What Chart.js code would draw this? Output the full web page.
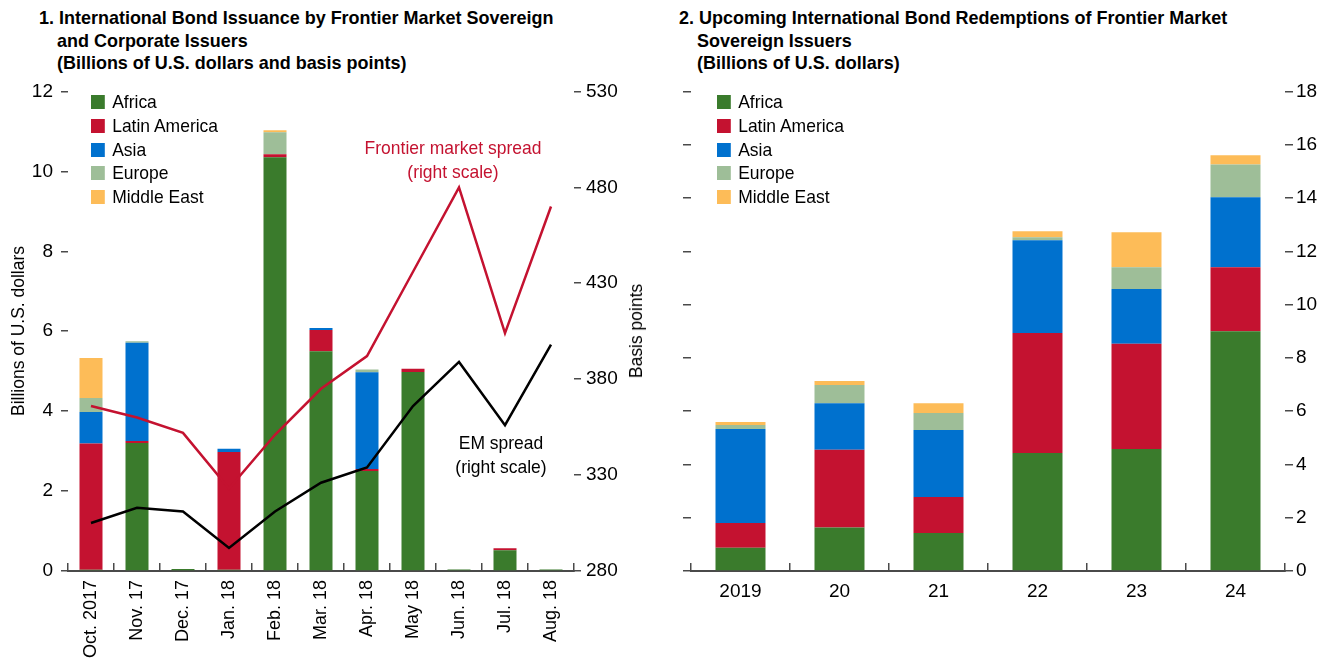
<!DOCTYPE html>
<html lang="en">
<head>
<meta charset="UTF-8">
<title>Frontier market bonds</title>
<script src="https://cdn.jsdelivr.net/npm/chart.js"></script>
<style>
    body { margin: 0; background: #fff; width: 1333px; height: 660px; position: relative; overflow: hidden;
           font-family: "Liberation Sans", Arial, sans-serif; color: #000; }
    .title { position: absolute; top: 7px; font-weight: bold; font-size: 19px; line-height: 22.5px;
             padding-left: 19px; text-indent: -19px; white-space: nowrap;
             transform: scaleX(0.946); transform-origin: left top; }
    .chart { position: absolute; }
    .legend { position: absolute; top: 92px; font-size: 19px; }
    .legend div { height: 23.8px; line-height: 20px; white-space: nowrap; transform: scaleX(0.92); transform-origin: left center; }
    .legend span { display: inline-block; width: 15px; height: 14px; margin-right: 8px; vertical-align: -1px; }
    .note { position: absolute; font-size: 19px; line-height: 24px; text-align: center; white-space: nowrap; }
    .axis-title { position: absolute; font-size: 19px; white-space: nowrap; }
</style>
</head>
<body>

<div class="title" style="left:39px">1. International Bond Issuance by Frontier Market Sovereign<br>and Corporate Issuers<br>(Billions of U.S. dollars and basis points)</div>
<div class="title" style="left:679px">2. Upcoming International Bond Redemptions of Frontier Market<br>Sovereign Issuers<br>(Billions of U.S. dollars)</div>

<canvas id="issuance" class="chart" style="left:0px; top:72px" width="655" height="588"></canvas>
<canvas id="redemptions" class="chart" style="left:660px; top:77px" width="673" height="583"></canvas>

<div class="axis-title" style="left:18px; top:331px; transform:translate(-50%, -50%) rotate(-90deg) scaleX(0.92)">Billions of U.S. dollars</div>
<div class="axis-title" style="left:636px; top:331px; transform:translate(-50%, -50%) rotate(-90deg) scaleX(0.92)">Basis points</div>

<div class="note" style="left:453px; top:136px; transform:translateX(-50%) scaleX(0.92); color:#c41230">Frontier market spread<br>(right scale)</div>
<div class="note" style="left:501px; top:431px; transform:translateX(-50%) scaleX(0.92)">EM spread<br>(right scale)</div>

<div class="legend" id="legendLeft" style="left:91px"></div>
<div class="legend" id="legendRight" style="left:717px"></div>

<script>
    // Panel 1: monthly issuance (billions of U.S. dollars) and spreads (basis points)
    const months = ['Oct. 2017', 'Nov. 17', 'Dec. 17', 'Jan. 18', 'Feb. 18', 'Mar. 18',
                    'Apr. 18', 'May 18', 'Jun. 18', 'Jul. 18', 'Aug. 18'];
    const issAfrica  = [0.03, 3.20, 0.05, 0.03, 10.35, 5.50, 2.50, 4.98, 0.04, 0.52, 0.04];
    const issLatAm   = [3.16, 0.05, 0, 2.95, 0.08, 0.53, 0.05, 0.08, 0, 0.05, 0];
    const issAsia    = [0.79, 2.46, 0, 0.08, 0, 0.05, 2.42, 0, 0, 0, 0];
    const issEurope  = [0.35, 0.04, 0, 0, 0.55, 0, 0.07, 0, 0, 0, 0];
    const issMidEast = [1.00, 0, 0, 0, 0.05, 0, 0, 0, 0, 0, 0];
    const frontierSpread = [366, 360, 352, 323, 351, 375, 392, 436, 480, 404, 470];
    const emSpread       = [305, 313, 311, 292, 311, 326, 334, 366, 389, 356, 398];

    // Panel 2: redemptions by year (billions of U.S. dollars)
    const years = ['2019', '20', '21', '22', '23', '24'];
    const redAfrica  = [0.87, 1.63, 1.43, 4.43, 4.58, 9.00];
    const redLatAm   = [0.93, 2.92, 1.35, 4.50, 3.95, 2.40];
    const redAsia    = [3.53, 1.75, 2.51, 3.48, 2.05, 2.63];
    const redEurope  = [0.15, 0.68, 0.64, 0.12, 0.82, 1.23];
    const redMidEast = [0.11, 0.15, 0.37, 0.22, 1.31, 0.34];

    const regions = ['Africa', 'Latin America', 'Asia', 'Europe', 'Middle East'];
    const regionColors = ['#3a7b2c', '#c41230', '#0071ce', '#9ebe98', '#fdbc58'];

    const FONT = { family: '"Liberation Sans", Arial, sans-serif', size: 19 };
    const AXIS = '#4a4a4a';

    // legends built from the same region list
    ['legendLeft', 'legendRight'].forEach(id => {
        const box = document.getElementById(id);
        regions.forEach((name, i) => {
            const row = document.createElement('div');
            row.innerHTML = `<span style="background:${regionColors[i]}"></span>${name}`;
            box.appendChild(row);
        });
    });

    function barSets(series, pct, axis) {
        return series.map((values, i) => ({
            type: 'bar',
            label: regions[i],
            data: values,
            yAxisID: axis,
            backgroundColor: regionColors[i],
            barPercentage: pct,
            categoryPercentage: 1,
            order: 1
        }));
    }

    function xScale(fontSize) {
        return {
            stacked: true,
            offset: true,
            grid: { offset: true, drawOnChartArea: false, drawTicks: true, tickLength: -8, color: AXIS, lineWidth: 1.5 },
            border: { color: AXIS, width: 2 },
            ticks: { autoSkip: false, font: Object.assign({}, FONT, { size: fontSize }), color: '#000', padding: 17 },
            afterFit(s) { s.height = 89; }
        };
    }

    function yTicks(padding) {
        return { font: FONT, color: '#000', padding: padding };
    }

    const yGrid = { drawOnChartArea: false, drawTicks: true, tickLength: 7, color: AXIS, lineWidth: 1.5 };

    Chart.defaults.animation = false;

    const xLeft = xScale(18);
    xLeft.ticks.minRotation = 90;
    xLeft.ticks.maxRotation = 90;

    new Chart(document.getElementById('issuance'), {
        data: {
            labels: months,
            datasets: [
                ...barSets([issAfrica, issLatAm, issAsia, issEurope, issMidEast], 0.5, 'y'),
                { type: 'line', label: 'Frontier market spread', data: frontierSpread, yAxisID: 'y1',
                  borderColor: '#c41230', borderWidth: 2.5, pointRadius: 0, tension: 0, order: 0 },
                { type: 'line', label: 'EM spread', data: emSpread, yAxisID: 'y1',
                  borderColor: '#000', borderWidth: 2.5, pointRadius: 0, tension: 0, order: 0 }
            ]
        },
        options: {
            responsive: false,
            layout: { padding: 0 },
            plugins: { legend: { display: false }, tooltip: { enabled: false } },
            scales: {
                x: xLeft,
                y: {
                    stacked: true, min: 0, max: 12,
                    ticks: Object.assign(yTicks(8), { stepSize: 2 }),
                    grid: yGrid, border: { display: false },
                    afterFit(s) { s.width = 68; }
                },
                y1: {
                    position: 'right', min: 280, max: 530,
                    ticks: Object.assign(yTicks(5), { stepSize: 50 }),
                    grid: yGrid, border: { display: false },
                    afterFit(s) { s.width = 81; }
                }
            }
        }
    });

    new Chart(document.getElementById('redemptions'), {
        data: {
            labels: years,
            datasets: barSets([redAfrica, redLatAm, redAsia, redEurope, redMidEast], 0.505, 'y')
        },
        options: {
            responsive: false,
            layout: { padding: 0 },
            plugins: { legend: { display: false }, tooltip: { enabled: false } },
            scales: {
                x: xScale(19),
                yL: {
                    position: 'left', min: 0, max: 18,
                    ticks: { display: false, stepSize: 2 },
                    grid: Object.assign({}, yGrid, { tickLength: 8 }), border: { display: false },
                    afterFit(s) { s.width = 31; }
                },
                y: {
                    position: 'right', stacked: true, min: 0, max: 18,
                    ticks: Object.assign(yTicks(3), { stepSize: 2 }),
                    grid: Object.assign({}, yGrid, { tickLength: 8 }), border: { display: false },
                    afterFit(s) { s.width = 48; }
                }
            }
        }
    });
</script>
</body>
</html>
